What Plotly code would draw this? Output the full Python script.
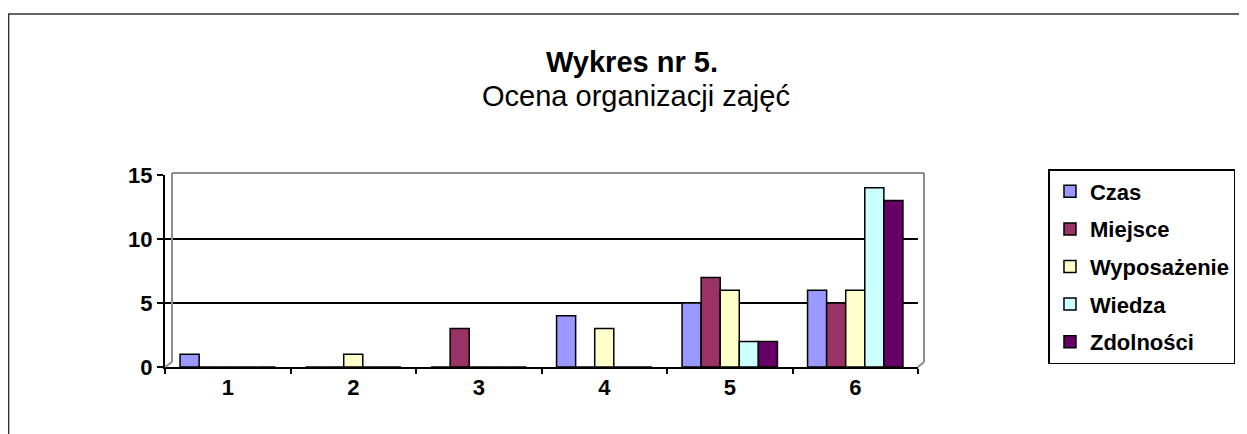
import plotly.graph_objects as go

categories = ["1", "2", "3", "4", "5", "6"]
czas = [1, 0, 0, 4, 5, 6]
miejsce = [0, 0, 3, 0, 7, 5]
wyposazenie = [0, 1, 0, 3, 6, 6]
wiedza = [0, 0, 0, 0, 2, 14]
zdolnosci = [0, 0, 0, 0, 2, 13]
y_ticks = [0, 5, 10, 15]

series = [
    ("Czas", czas, "#9999FF"),
    ("Miejsce", miejsce, "#993366"),
    ("Wyposażenie", wyposazenie, "#FFFFCC"),
    ("Wiedza", wiedza, "#CCFFFF"),
    ("Zdolności", zdolnosci, "#660066"),
]

OFF = 8  # page body margin
W, H = 1247 - OFF, 434 - OFF
# screen coordinates of plot area: x 165..921, y 175..367
L, T = 165 - OFF, 175 - OFF
R = W - (921 - OFF)
B = H - (367 - OFF)
pw, ph = W - L - R, H - T - B

def px(sx):
    return (sx - OFF - L) / pw

def py(sy):
    return (H - B - (sy - OFF)) / ph

FONT = "Arial, Liberation Sans, sans-serif"

fig = go.Figure()
for name, vals, col in series:
    fig.add_trace(go.Bar(
        x=categories, y=vals, name=name, legendgroup=name,
        marker=dict(color=col, line=dict(color="black", width=1.5)),
    ))

GRAY = "#8c8c8c"
shapes = [
    dict(type="rect", xref="paper", yref="paper",
         x0=px(8), x1=px(1320), y0=py(480), y1=py(14),
         line=dict(color="#333333", width=1.5), layer="below"),
    dict(type="line", xref="paper", yref="paper",
         x0=px(172), x1=px(927), y0=py(173), y1=py(173),
         line=dict(color=GRAY, width=2)),
    dict(type="line", xref="paper", yref="paper",
         x0=px(927), x1=px(927), y0=py(173), y1=py(362),
         line=dict(color=GRAY, width=2)),
    dict(type="line", xref="paper", yref="paper",
         x0=px(172), x1=px(172), y0=py(173), y1=py(362),
         line=dict(color=GRAY, width=2)),
    dict(type="line", xref="paper", yref="paper",
         x0=px(921), x1=px(927), y0=py(367), y1=py(362),
         line=dict(color=GRAY, width=2)),
    dict(type="line", xref="paper", yref="paper",
         x0=px(165), x1=px(172), y0=py(367), y1=py(362),
         line=dict(color=GRAY, width=2)),
]

annotations = [
    dict(text="<b>Wykres nr 5.</b>", xref="paper", yref="paper",
         x=px(634), y=py(62), xanchor="center", yanchor="middle",
         showarrow=False, font=dict(family=FONT, size=29, color="black")),
    dict(text="Ocena organizacji zajęć", xref="paper", yref="paper",
         x=px(638), y=py(96), xanchor="center", yanchor="middle",
         showarrow=False, font=dict(family=FONT, size=29, color="black")),
]

fig.update_layout(
    width=W, height=H,
    margin=dict(l=L, r=R, t=T, b=B, pad=0),
    paper_bgcolor="white", plot_bgcolor="white",
    barmode="group", bargap=0.24, bargroupgap=0,
    font=dict(family=FONT, color="black"),
    showlegend=True,
    legend=dict(
        x=px(1052), y=py(169), xanchor="left", yanchor="top",
        bordercolor="black", borderwidth=1.5, bgcolor="white",
        font=dict(family=FONT, size=22, color="black", weight="bold"),
        traceorder="grouped", tracegroupgap=6,
        itemwidth=30,
    ),
    shapes=shapes,
    annotations=annotations,
    xaxis=dict(
        type="category", range=[-0.5, 5.5],
        showline=True, linecolor="black", linewidth=2,
        ticks="outside", tickson="boundaries", ticklen=5, tickcolor="black", tickwidth=2,
        tickfont=dict(family=FONT, size=22, color="black", weight="bold"),
        showgrid=False, zeroline=False,
    ),
    yaxis=dict(
        range=[0, 15], tickvals=y_ticks,
        showline=True, linecolor="black", linewidth=2,
        ticks="outside", ticklen=6, tickcolor="black", tickwidth=2,
        tickfont=dict(family=FONT, size=22, color="black", weight="bold"),
        showgrid=True, gridcolor="black", gridwidth=2,
        zeroline=False,
    ),
)

fig.write_html("out.html")
